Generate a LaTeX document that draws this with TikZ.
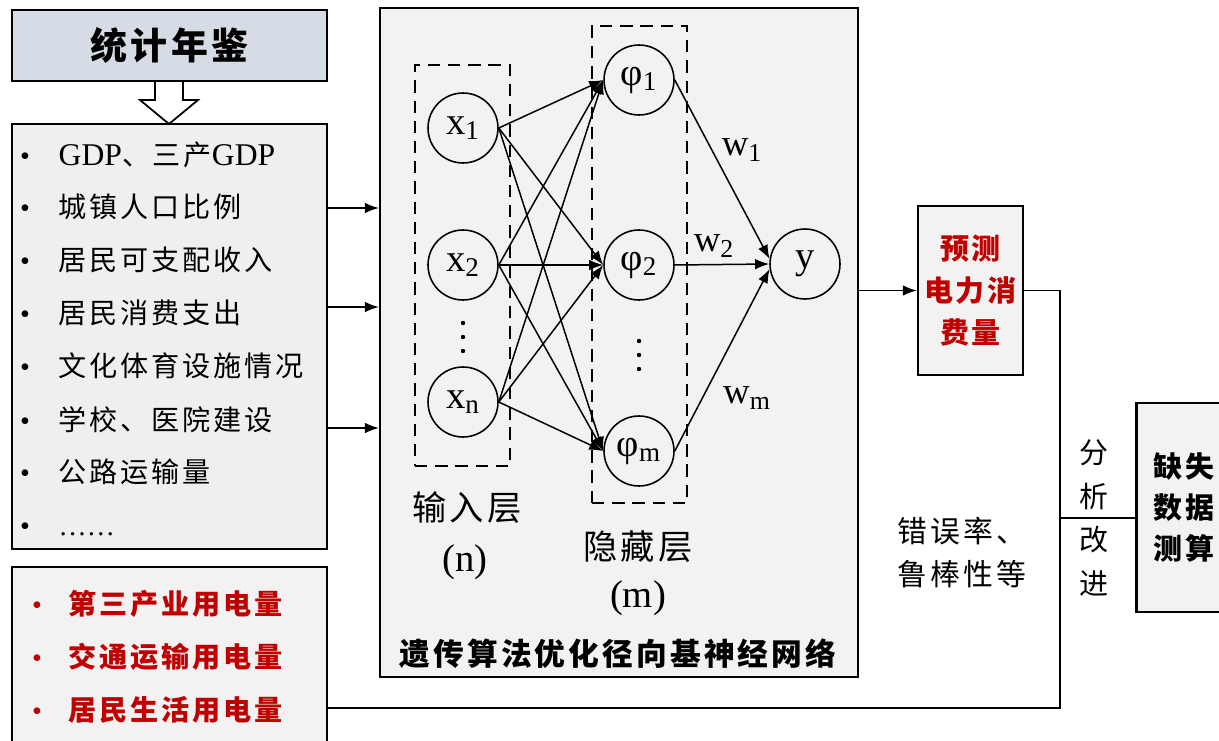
\documentclass[tikz,border=0pt]{standalone}
\usepackage{fontspec}
\setmainfont{Liberation Serif}
\newfontfamily\cjk[LetterSpace=10]{Noto Sans CJK SC}
\usetikzlibrary{arrows.meta}

\definecolor{boxgray}{HTML}{F2F2F2}
\definecolor{listgray}{HTML}{EFEFEF}
\definecolor{titleblue}{HTML}{D6DCE5}
\definecolor{darkred}{HTML}{C00000}

\tikzset{
  box/.style={draw, line width=1.2pt, inner sep=0pt},
  layerbox/.style={draw, line width=1.1pt, dash pattern=on 7pt off 4.5pt, inner sep=0pt},
  neuron/.style={circle, draw, line width=0.9pt, minimum size=1.4cm, inner sep=0pt, font=\fontsize{22}{26}\selectfont},
  item/.style={anchor=base west, inner sep=0pt, font=\fontsize{16}{20}\selectfont\cjk},
  bullet/.style={anchor=base, inner sep=0pt, font=\fontsize{16}{20}\selectfont},
  wlabel/.style={inner sep=0pt, font=\fontsize{21}{25}\selectfont},
}

\begin{document}
\begin{tikzpicture}[x=0.02cm, y=-0.02cm, >={Latex[length=8pt,width=6pt]}, line width=0.85pt]

    \useasboundingbox (0,0) rectangle (1219,740);
    \clip (0,0) rectangle (1219,740);

    % sources on the left
    \node[box, fill=titleblue, minimum width=6.3cm, minimum height=1.42cm] (book) at (169.5,45.5) {\fontsize{21}{25}\selectfont\cjk\bfseries 统计年鉴};
    \node[box, fill=listgray, minimum width=6.3cm, minimum height=8.5cm] (data) at (169.5,336.5) {};
    \node[box, fill=boxgray, minimum width=6.3cm, minimum height=3.86cm] (elec) at (169.5,663.5) {};
    \draw[fill=white, line width=1pt] (book.south -| 155,0) -- (155,100) -- (140,100) -- (169,124) -- (198,100) -- (183,100) -- (book.south -| 183,0);

    \node[bullet] (b1) at (25,165) {•};
    \node[item] (d1) at (58,165) {{\rmfamily\fontsize{18}{20}\selectfont GDP}、三产{\rmfamily\fontsize{18}{20}\selectfont GDP}};
    \node[bullet] (b2) at (25,217) {•};
    \node[item] (d2) at (58,217) {城镇人口比例};
    \node[bullet] (b3) at (25,270) {•};
    \node[item] (d3) at (58,270) {居民可支配收入};
    \node[bullet] (b4) at (25,323) {•};
    \node[item] (d4) at (58,323) {居民消费支出};
    \node[bullet] (b5) at (25,376) {•};
    \node[item] (d5) at (58,376) {文化体育设施情况};
    \node[bullet] (b6) at (25,430) {•};
    \node[item] (d6) at (58,430) {学校、医院建设};
    \node[bullet] (b7) at (25,482) {•};
    \node[item] (d7) at (58,482) {公路运输量};
    \node[bullet] (b8) at (25,535) {•};
    \node[item] (d8) at (58,535) {{\rmfamily ……}};

    \node[bullet, darkred] (r1) at (37,614) {•};
    \node[item, darkred] (e1) at (68,614) {\bfseries 第三产业用电量};
    \node[bullet, darkred] (r2) at (37,667) {•};
    \node[item, darkred] (e2) at (68,667) {\bfseries 交通运输用电量};
    \node[bullet, darkred] (r3) at (37,720) {•};
    \node[item, darkred] (e3) at (68,720) {\bfseries 居民生活用电量};

    % RBF network
    \node[box, fill=boxgray, minimum width=9.56cm, minimum height=13.38cm] (rbf) at (619,342.5) {};
    \node[layerbox, minimum width=1.9cm, minimum height=8.02cm] (inlayer) at (462.5,265.5) {};
    \node[layerbox, minimum width=1.9cm, minimum height=9.54cm] (hidlayer) at (639.5,264.5) {};

    \node[neuron] (x1) at (463,128) {x\textsubscript{1}};
    \node[neuron] (x2) at (463,265) {x\textsubscript{2}};
    \node[neuron] (xn) at (463,402) {x\textsubscript{n}};
    \node[neuron] (h1) at (639,80) {φ\textsubscript{1}};
    \node[neuron] (h2) at (639,265) {φ\textsubscript{2}};
    \node[neuron] (hm) at (639,451) {φ\textsubscript{m}};
    \node[neuron] (out) at (805,264) {y};

    \fill (463,323) circle (2.2) (463,337) circle (2.2) (463,351) circle (2.2);
    \fill (639,341) circle (2.2) (639,355) circle (2.2) (639,369) circle (2.2);

    \draw[->] (x1.east) -- (h1.west);
    \draw[->] (x1.east) -- (h2.west);
    \draw[->] (x1.east) -- (hm.west);
    \draw[->] (x2.east) -- (h1.west);
    \draw[->] (x2.east) -- (h2.west);
    \draw[->] (x2.east) -- (hm.west);
    \draw[->] (xn.east) -- (h1.west);
    \draw[->] (xn.east) -- (h2.west);
    \draw[->] (xn.east) -- (hm.west);
    \draw[->] (h1.east) -- (out.172);
    \draw[->] (h2.east) -- (out.west);
    \draw[->] (hm.east) -- (out.188);

    \node[wlabel] (w1) at (742,150) {w\textsubscript{1}};
    \node[wlabel] (w2) at (714,246) {w\textsubscript{2}};
    \node[wlabel] (wm) at (747,398) {w\textsubscript{m}};

    \node[font=\fontsize{19.5}{24}\selectfont\cjk] (inname) at (467,508) {输入层};
    \node[font=\fontsize{22}{26}\selectfont] (inn) at (465,562) {(n)};
    \node[font=\fontsize{19.5}{24}\selectfont\cjk] (hidname) at (638,547) {隐藏层};
    \node[font=\fontsize{22}{26}\selectfont] (hidm) at (638,598) {(m)};
    \node[font=\fontsize{17.5}{21}\selectfont\cjk\bfseries] (rbfname) at (618,654) {遗传算法优化径向基神经网络};

    % inputs into the network
    \draw[->, line width=1pt] (data.east |- 0,208) -- (rbf.west |- 0,208);
    \draw[->, line width=1pt] (data.east |- 0,307) -- (rbf.west |- 0,307);
    \draw[->, line width=1pt] (data.east |- 0,428) -- (rbf.west |- 0,428);

    % prediction and feedback
    \node[box, fill=boxgray, minimum width=2.1cm, minimum height=3.38cm, align=center, text=darkred,
          font=\fontsize{16.5}{23.8}\selectfont\cjk\bfseries] (pred) at (970.5,290.5) {预测\\电力消\\费量};
    \node[box, fill=boxgray, minimum width=1.9cm, minimum height=4.18cm, align=center,
          font=\fontsize{16.5}{23.2}\selectfont\cjk\bfseries] (miss) at (1184,507.5) {缺失\\数据\\测算};
    \coordinate (fork) at (1060,518);

    \draw[->, line width=1pt] (rbf.east |- pred.west) -- (pred.west);
    \draw[line width=1pt] (pred.east) -| (fork) |- (elec.east |- 0,708);
    \draw[line width=1pt] (fork) -- (miss.west |- fork);

    \node[align=center, font=\fontsize{16.5}{25}\selectfont\cjk] (improve) at (1094,518) {分\\析\\改\\进};
    \node[align=left, font=\fontsize{17}{24.4}\selectfont\cjk] (metric) at (962,553) {错误率、\\鲁棒性等};

\end{tikzpicture}
\end{document}
